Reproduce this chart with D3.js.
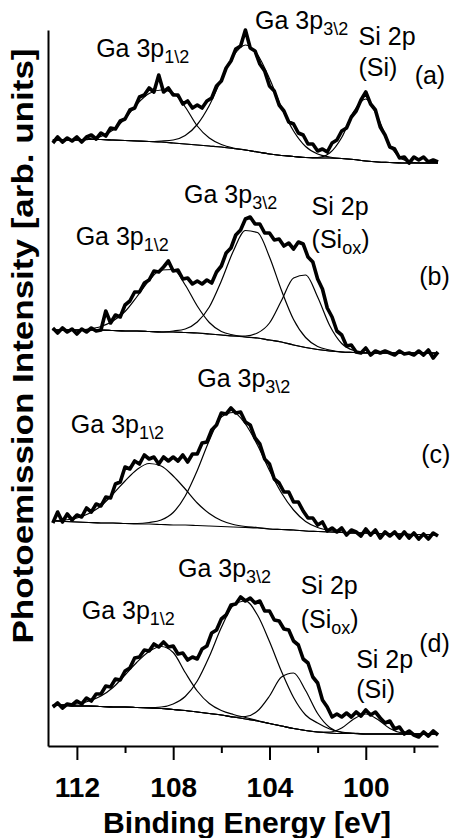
<!DOCTYPE html>
<html>
<head>
<meta charset="utf-8">
<script src="https://cdn.jsdelivr.net/npm/d3@7"></script>
<style>
body { margin: 0; background: #fff; }
text { font-family: "Liberation Sans", Arial, Helvetica, sans-serif; fill: #000; }
</style>
</head>
<body>
<svg id="chart" width="462" height="838"></svg>
<script>
// Binding energy of every measured point (eV)
var energy = [
	113.0, 112.8, 112.6, 112.4, 112.2, 112.0, 111.8, 111.6, 111.4, 111.2,
	111.0, 110.8, 110.6, 110.4, 110.2, 110.0, 109.8, 109.6, 109.4, 109.2,
	109.0, 108.8, 108.6, 108.4, 108.2, 108.0, 107.8, 107.6, 107.4, 107.2,
	107.0, 106.8, 106.6, 106.4, 106.2, 106.0, 105.8, 105.6, 105.4, 105.2,
	105.0, 104.8, 104.6, 104.4, 104.2, 104.0, 103.8, 103.6, 103.4, 103.2,
	103.0, 102.8, 102.6, 102.4, 102.2, 102.0, 101.8, 101.6, 101.4, 101.2,
	101.0, 100.8, 100.6, 100.4, 100.2, 100.0, 99.8, 99.6, 99.4, 99.2,
	99.0, 98.8, 98.6, 98.4, 98.2, 98.0, 97.8, 97.6, 97.4, 97.2,
	97.0
]

// Energy grid of the fitted curves (eV)
var fitEnergy = [
	113.0, 112.5, 112.0, 111.5, 111.0, 110.5, 110.0, 109.5, 109.0, 108.5,
	108.0, 107.5, 107.0, 106.5, 106.0, 105.5, 105.0, 104.5, 104.0, 103.5,
	103.0, 102.5, 102.0, 101.5, 101.0, 100.5, 100.0, 99.5, 99.0, 98.5,
	98.0, 97.5, 97.0
]

// Spectra, offset intensity (arb. units)
var specA = [
	1206, 1218, 1208, 1216, 1210, 1218, 1208, 1218, 1222, 1214,
	1226, 1220, 1236, 1234, 1250, 1254, 1272, 1276, 1298, 1302,
	1316, 1308, 1342, 1308, 1316, 1302, 1302, 1284, 1290, 1276,
	1282, 1276, 1290, 1296, 1320, 1330, 1356, 1370, 1394, 1400,
	1432, 1396, 1390, 1364, 1350, 1320, 1310, 1282, 1270, 1248,
	1244, 1226, 1222, 1204, 1204, 1190, 1194, 1188, 1206, 1212,
	1230, 1236, 1258, 1270, 1292, 1308, 1284, 1272, 1238, 1222,
	1198, 1194, 1176, 1178, 1166, 1178, 1172, 1178, 1168, 1172,
	1168
]
var specB = [
	836, 826, 836, 828, 834, 824, 834, 828, 836, 830,
	832, 870, 846, 862, 858, 882, 890, 908, 908, 926,
	932, 950, 948, 958, 970, 950, 952, 934, 936, 924,
	930, 924, 932, 926, 948, 960, 986, 996, 1022, 1032,
	1054, 1058, 1044, 1044, 1026, 1026, 1012, 1014, 1000, 1006,
	994, 1008, 1004, 978, 968, 934, 914, 876, 858, 830,
	822, 800, 802, 788, 786, 796, 782, 790, 786, 790,
	786, 782, 790, 784, 786, 782, 790, 782, 792, 776,
	788
]
var specC = [
	446, 468, 448, 464, 452, 462, 458, 476, 468, 484,
	480, 498, 496, 524, 528, 558, 554, 570, 564, 582,
	574, 578, 564, 578, 570, 578, 570, 582, 568, 584,
	584, 606, 608, 632, 642, 666, 664, 676, 666, 668,
	648, 642, 616, 604, 574, 564, 534, 526, 508, 508,
	488, 488, 470, 456, 456, 442, 448, 430, 436, 428,
	436, 422, 432, 428, 420, 434, 422, 432, 416, 428,
	420, 428, 416, 428, 416, 426, 414, 424, 414, 426,
	420
]
var specD = [
	78, 86, 76, 84, 82, 90, 84, 96, 90, 104,
	104, 120, 118, 134, 132, 150, 156, 176, 178, 192,
	190, 204, 198, 208, 198, 200, 184, 186, 172, 178,
	174, 194, 200, 226, 232, 254, 262, 282, 284, 298,
	290, 296, 286, 290, 270, 270, 252, 250, 234, 232,
	210, 202, 174, 166, 138, 126, 92, 78, 58, 64,
	58, 66, 58, 68, 60, 72, 62, 68, 56, 46,
	50, 34, 38, 24, 30, 22, 18, 28, 20, 30,
	22
]

// Backgrounds on the fit grid
var bgA = [1212, 1212, 1212, 1213, 1213, 1212, 1211, 1210, 1209, 1208, 1206, 1204, 1202, 1200, 1198, 1195, 1192, 1188, 1184, 1181, 1179, 1177, 1176, 1176, 1175, 1173, 1170, 1168, 1167, 1166, 1166, 1166, 1166]
var bgB = [832, 832, 832, 832, 832, 831, 830, 830, 829, 828, 828, 827, 826, 824, 822, 820, 818, 816, 812, 808, 802, 797, 793, 790, 788, 787, 786, 786, 786, 786, 786, 786, 786]
var bgC = [450, 449, 448, 447, 446, 446, 445, 444, 444, 443, 442, 442, 441, 440, 439, 438, 437, 436, 434, 433, 432, 430, 429, 428, 427, 426, 426, 425, 424, 424, 423, 423, 422]
var bgD = [82, 81, 80, 80, 79, 78, 78, 77, 76, 75, 73, 71, 68, 65, 62, 58, 54, 50, 45, 40, 35, 31, 28, 26, 25, 25, 24, 24, 24, 24, 24, 24, 24]

// Fitted components, height above background
var ga12A = [0, 0, 0, 2, 6, 20, 44, 74, 96, 104, 100, 74, 38, 16, 5, 1, 0, 0, 0, 0, 0, 0, 0, 0, 0, 0, 0, 0, 0, 0, 0, 0, 0]
var ga32A = [0, 0, 0, 0, 0, 0, 0, 0, 0, 2, 6, 17, 41, 81, 135, 185, 210, 195, 151, 96, 51, 22, 8, 2, 0, 0, 0, 0, 0, 0, 0, 0, 0]
var siA = [0, 0, 0, 0, 0, 0, 0, 0, 0, 0, 0, 0, 0, 0, 0, 0, 0, 0, 0, 0, 0, 0, 1, 10, 42, 96, 124, 89, 35, 8, 1, 0, 0]

var ga12B = [0, 0, 0, 2, 7, 19, 39, 69, 102, 124, 125, 95, 54, 23, 7, 2, 0, 0, 0, 0, 0, 0, 0, 0, 0, 0, 0, 0, 0, 0, 0, 0, 0]
var ga32B = [0, 0, 0, 0, 0, 0, 0, 0, 0, 0, 2, 7, 22, 54, 108, 170, 213, 211, 166, 103, 51, 20, 6, 2, 0, 0, 0, 0, 0, 0, 0, 0, 0]
var siOxB = [0, 0, 0, 0, 0, 0, 0, 0, 0, 0, 0, 0, 0, 0, 0, 0, 2, 10, 34, 83, 134, 145, 105, 51, 17, 4, 1, 0, 0, 0, 0, 0, 0]

var ga12C = [1, 3, 8, 18, 34, 58, 85, 109, 121, 117, 98, 72, 45, 25, 12, 5, 2, 1, 0, 0, 0, 0, 0, 0, 0, 0, 0, 0, 0, 0, 0, 0, 0]
var ga32C = [0, 0, 0, 0, 0, 0, 0, 1, 3, 9, 25, 58, 110, 171, 219, 229, 207, 166, 117, 73, 40, 19, 8, 3, 1, 0, 0, 0, 0, 0, 0, 0, 0]

var ga12D = [0, 2, 4, 10, 21, 39, 64, 91, 113, 124, 114, 76, 42, 20, 9, 5, 3, 1, 0, 0, 0, 0, 0, 0, 0, 0, 0, 0, 0, 0, 0, 0, 0]
var ga32D = [0, 0, 0, 0, 0, 0, 0, 0, 1, 3, 11, 28, 62, 114, 175, 223, 236, 212, 164, 109, 62, 31, 18, 8, 3, 1, 0, 0, 0, 0, 0, 0, 0]
var siOxD = [0, 0, 0, 0, 0, 0, 0, 0, 0, 0, 0, 0, 0, 0, 0, 0, 5, 20, 55, 98, 111, 80, 37, 11, 2, 0, 0, 0, 0, 0, 0, 0, 0]
var siD = [0, 0, 0, 0, 0, 0, 0, 0, 0, 0, 0, 0, 0, 0, 0, 0, 0, 0, 0, 0, 0, 0, 0, 2, 11, 29, 40, 29, 11, 2, 0, 0, 0]

// Axis ticks
var majorTicks = [112, 108, 104, 100]
var minorTicks = [110, 106, 102, 98]

var panels = [
	{ data: specA, bg: bgA, comps: [ga12A, ga32A, siA] },
	{ data: specB, bg: bgB, comps: [ga12B, ga32B, siOxB] },
	{ data: specC, bg: bgC, comps: [ga12C, ga32C] },
	{ data: specD, bg: bgD, comps: [ga12D, ga32D, siOxD, siD] }
]

// Peak labels: [energy, intensity] anchor, then text pieces (sub = subscript)
var labels = [
	{ e: 111.2, c: 1378, parts: [["Ga 3p"], ["1\\2", "sub"]] },
	{ e: 104.6, c: 1434, parts: [["Ga 3p"], ["3\\2", "sub"]] },
	{ e: 100.3, c: 1402, parts: [["Si 2p"]] },
	{ e: 100.3, c: 1340, parts: [["(Si)"]] },
	{ e: 97.97, c: 1324, parts: [["(a)"]] },

	{ e: 107.55, c: 1086, parts: [["Ga 3p"], ["3\\2", "sub"]] },
	{ e: 102.25, c: 1062, parts: [["Si 2p"]] },
	{ e: 102.25, c: 996, parts: [["(Si"], ["ox", "sub"], [")"]] },
	{ e: 112.05, c: 1002, parts: [["Ga 3p"], ["1\\2", "sub"]] },
	{ e: 97.78, c: 922, parts: [["(b)"]] },

	{ e: 107.0, c: 718, parts: [["Ga 3p"], ["3\\2", "sub"]] },
	{ e: 112.25, c: 626, parts: [["Ga 3p"], ["1\\2", "sub"]] },
	{ e: 97.7, c: 566, parts: [["(c)"]] },

	{ e: 107.8, c: 338, parts: [["Ga 3p"], ["3\\2", "sub"]] },
	{ e: 102.7, c: 304, parts: [["Si 2p"]] },
	{ e: 102.7, c: 236, parts: [["(Si"], ["ox", "sub"], [")"]] },
	{ e: 111.8, c: 254, parts: [["Ga 3p"], ["1\\2", "sub"]] },
	{ e: 97.78, c: 188, parts: [["(d)"]] },
	{ e: 100.4, c: 156, parts: [["Si 2p"]] },
	{ e: 100.4, c: 96, parts: [["(Si)"]] }
]

var svg = d3.select("#chart")
var margin = { top: 30, right: 24, bottom: 92, left: 48 }
var width = +svg.attr("width") - margin.left - margin.right
var height = +svg.attr("height") - margin.top - margin.bottom

var x = d3.scaleLinear().domain([113.2, 97.0]).range([margin.left, margin.left + width])
var y = d3.scaleLinear().domain([0, 1432]).range([margin.top + height, margin.top])

var dataLine = d3.line()
	.x(function(d, i) { return x(energy[i]) })
	.y(function(d) { return y(d) })

var fitLine = d3.line()
	.curve(d3.curveMonotoneX)
	.x(function(d, i) { return x(fitEnergy[i]) })
	.y(function(d) { return y(d) })

// Fits first, so the measured data sits on top
panels.forEach(function(p) {
	var g = svg.append("g").attr("class", "panel")
	g.append("path")
		.attr("d", fitLine(p.bg))
		.attr("fill", "none")
		.attr("stroke", "#000")
		.attr("stroke-width", 1.2)
	p.comps.forEach(function(comp) {
		var total = p.bg.map(function(b, i) { return b + comp[i] })
		g.append("path")
			.attr("d", fitLine(total))
			.attr("fill", "none")
			.attr("stroke", "#000")
			.attr("stroke-width", 1.2)
	})
	g.append("path")
		.attr("d", dataLine(p.data))
		.attr("fill", "none")
		.attr("stroke", "#000")
		.attr("stroke-width", 3.6)
		.attr("stroke-linejoin", "round")
})

// Axes
var xAxis = svg.append("g")
	.attr("transform", "translate(0," + y(0) + ")")
	.call(d3.axisBottom(x).tickValues(majorTicks).tickSize(14).tickSizeOuter(0).tickFormat(d3.format("d")))
xAxis.select(".domain").attr("stroke-width", 2)
xAxis.selectAll(".tick line").attr("stroke-width", 2)
xAxis.selectAll(".tick text")
	.attr("y", 51)
	.attr("dy", 0)
	.style("font-family", "'Liberation Sans', Arial, sans-serif")
	.style("font-size", "28px")
	.style("font-weight", "bold")
	.attr("fill", "#000")

var xMinor = svg.append("g")
	.attr("transform", "translate(0," + y(0) + ")")
	.call(d3.axisBottom(x).tickValues(minorTicks).tickSize(7).tickSizeOuter(0).tickFormat(""))
xMinor.select(".domain").remove()
xMinor.selectAll(".tick line").attr("stroke-width", 2)

var yAxis = svg.append("g")
	.attr("transform", "translate(" + margin.left + ",0)")
	.call(d3.axisLeft(y).tickValues([]).tickSizeOuter(0))
yAxis.select(".domain").attr("stroke-width", 2)

// Axis titles
svg.append("text")
	.attr("x", 247)
	.attr("y", 833)
	.attr("text-anchor", "middle")
	.attr("textLength", 288)
	.attr("lengthAdjust", "spacingAndGlyphs")
	.style("font-size", "29px")
	.style("font-weight", "bold")
	.text("Binding Energy [eV]")

svg.append("text")
	.attr("transform", "translate(33,346) rotate(-90)")
	.attr("text-anchor", "middle")
	.attr("textLength", 595)
	.attr("lengthAdjust", "spacingAndGlyphs")
	.style("font-size", "29px")
	.style("font-weight", "bold")
	.text("Photoemission Intensity [arb. units]")

// Peak labels
labels.forEach(function(l) {
	var t = svg.append("text")
		.attr("x", x(l.e))
		.attr("y", y(l.c))
		.style("font-size", "25px")
	var shifted = false
	l.parts.forEach(function(part) {
		var span = t.append("tspan").text(part[0])
		if (part[1] === "sub") {
			span.attr("dy", 6).style("font-size", "18px")
			shifted = true
		} else if (shifted) {
			span.attr("dy", -6)
			shifted = false
		}
	})
})
</script>
</body>
</html>
